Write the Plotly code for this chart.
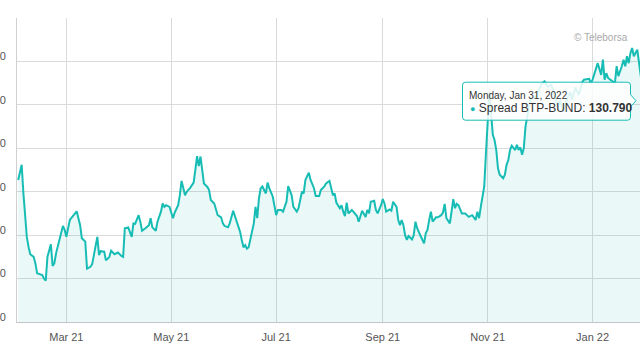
import plotly.graph_objects as go

dates = [
    "2021-02-01", "2021-02-02", "2021-02-03", "2021-02-04", "2021-02-05", "2021-02-06", "2021-02-07", "2021-02-08",
    "2021-02-10", "2021-02-11", "2021-02-12", "2021-02-14", "2021-02-15", "2021-02-16", "2021-02-17", "2021-02-18",
    "2021-02-20", "2021-02-21", "2021-02-22", "2021-02-23", "2021-02-25", "2021-02-27", "2021-02-28",
    "2021-03-01", "2021-03-03", "2021-03-05", "2021-03-07", "2021-03-09", "2021-03-10", "2021-03-12", "2021-03-13",
    "2021-03-15", "2021-03-16", "2021-03-17", "2021-03-19", "2021-03-20", "2021-03-21", "2021-03-23", "2021-03-24",
    "2021-03-26", "2021-03-27", "2021-03-29", "2021-03-30", "2021-03-31",
    "2021-04-02", "2021-04-03", "2021-04-04", "2021-04-06", "2021-04-08", "2021-04-09", "2021-04-10", "2021-04-12",
    "2021-04-13", "2021-04-14", "2021-04-16", "2021-04-18", "2021-04-19", "2021-04-20", "2021-04-22", "2021-04-23",
    "2021-04-25", "2021-04-26", "2021-04-27", "2021-04-28", "2021-04-30",
    "2021-05-01", "2021-05-02", "2021-05-03", "2021-05-05", "2021-05-06", "2021-05-07", "2021-05-09", "2021-05-10",
    "2021-05-12", "2021-05-14", "2021-05-15", "2021-05-16", "2021-05-17", "2021-05-18", "2021-05-20", "2021-05-22",
    "2021-05-23", "2021-05-24", "2021-05-26", "2021-05-27", "2021-05-28", "2021-05-30", "2021-05-31",
    "2021-06-01", "2021-06-03", "2021-06-04", "2021-06-06", "2021-06-07", "2021-06-09", "2021-06-10", "2021-06-11",
    "2021-06-12", "2021-06-13", "2021-06-14", "2021-06-15", "2021-06-16", "2021-06-18", "2021-06-19", "2021-06-20",
    "2021-06-21", "2021-06-22", "2021-06-23", "2021-06-25", "2021-06-26", "2021-06-27", "2021-06-29", "2021-06-30",
    "2021-07-01", "2021-07-02", "2021-07-04", "2021-07-05", "2021-07-07", "2021-07-08", "2021-07-10", "2021-07-11",
    "2021-07-13", "2021-07-14", "2021-07-15", "2021-07-16", "2021-07-17", "2021-07-18", "2021-07-20", "2021-07-21",
    "2021-07-23", "2021-07-24", "2021-07-26", "2021-07-27", "2021-07-29", "2021-07-30",
    "2021-08-01", "2021-08-02", "2021-08-03", "2021-08-04", "2021-08-05", "2021-08-07", "2021-08-08", "2021-08-09",
    "2021-08-10", "2021-08-11", "2021-08-12", "2021-08-14", "2021-08-15", "2021-08-17", "2021-08-18", "2021-08-19",
    "2021-08-20", "2021-08-22", "2021-08-23", "2021-08-24", "2021-08-25", "2021-08-27", "2021-08-28", "2021-08-29",
    "2021-08-31",
    "2021-09-01", "2021-09-02", "2021-09-03", "2021-09-05", "2021-09-06", "2021-09-07", "2021-09-09", "2021-09-10",
    "2021-09-11", "2021-09-12", "2021-09-13", "2021-09-14", "2021-09-15", "2021-09-16", "2021-09-18", "2021-09-19",
    "2021-09-20", "2021-09-21", "2021-09-23", "2021-09-24", "2021-09-25", "2021-09-26", "2021-09-27", "2021-09-28",
    "2021-09-29", "2021-09-30",
    "2021-10-02", "2021-10-03", "2021-10-05", "2021-10-06", "2021-10-07", "2021-10-08", "2021-10-10", "2021-10-11",
    "2021-10-12", "2021-10-13", "2021-10-14", "2021-10-15", "2021-10-17", "2021-10-19", "2021-10-21", "2021-10-23",
    "2021-10-25", "2021-10-26", "2021-10-27", "2021-10-28", "2021-10-30", "2021-10-31",
    "2021-11-01", "2021-11-02", "2021-11-03", "2021-11-04", "2021-11-05", "2021-11-06", "2021-11-07", "2021-11-08",
    "2021-11-10", "2021-11-11", "2021-11-12", "2021-11-13", "2021-11-14", "2021-11-15", "2021-11-17", "2021-11-18",
    "2021-11-19", "2021-11-20", "2021-11-21", "2021-11-22", "2021-11-23", "2021-11-24", "2021-11-25", "2021-11-26",
    "2021-11-29",
    "2021-12-01", "2021-12-02", "2021-12-04", "2021-12-06", "2021-12-08", "2021-12-10", "2021-12-12", "2021-12-13",
    "2021-12-15", "2021-12-17", "2021-12-19", "2021-12-20", "2021-12-22", "2021-12-24", "2021-12-26", "2021-12-27",
    "2021-12-30", "2021-12-31",
    "2022-01-01", "2022-01-03", "2022-01-04", "2022-01-06", "2022-01-07", "2022-01-08", "2022-01-09", "2022-01-10",
    "2022-01-12", "2022-01-14", "2022-01-15", "2022-01-16", "2022-01-18", "2022-01-19", "2022-01-20", "2022-01-21",
    "2022-01-22", "2022-01-23", "2022-01-24", "2022-01-25", "2022-01-27", "2022-01-28", "2022-01-31",
]

spread = [
    112.7, 114.6, 116.2, 109.7, 103.5, 99.6, 97.3, 95.6,
    95.0, 93.5, 91.2, 91.0, 90.8, 90.0, 89.5, 95.0,
    97.9, 92.9, 93.5, 95.8, 98.9, 102.1, 101.2,
    99.6, 103.5, 104.4, 105.5, 102.3, 99.3, 98.5, 92.3,
    92.7, 93.3, 95.4, 99.6, 95.4, 96.3, 96.2, 94.2,
    95.0, 96.4, 95.6, 95.8, 96.0,
    95.2, 95.0, 101.6, 101.8, 99.6, 102.7, 102.6, 104.6,
    103.1, 101.0, 101.6, 102.3, 103.9, 101.8, 101.0, 103.1,
    105.4, 107.3, 106.5, 106.9, 106.5,
    105.4, 103.9, 105.2, 106.9, 109.2, 112.5, 109.2, 110.0,
    110.9, 112.1, 115.0, 118.2, 115.9, 118.1, 111.9, 111.1,
    110.4, 108.1, 107.3, 106.2, 104.6, 104.1, 102.7,
    102.1, 101.8, 102.7, 105.6, 104.4, 102.1, 100.8, 98.9,
    97.2, 97.7, 96.9, 97.2, 99.0, 102.7, 106.5, 103.9,
    108.5, 110.8, 111.2, 109.6, 112.1, 110.8, 108.9, 106.5,
    104.6, 105.8, 105.8, 105.4, 107.7, 111.3, 109.2, 106.5,
    105.4, 106.2, 108.3, 110.0, 109.6, 112.7, 114.4, 112.7,
    110.8, 109.0, 109.0, 110.4, 111.2, 111.9,
    112.5, 110.4, 109.2, 109.6, 107.5, 106.2, 106.9, 105.4,
    104.4, 107.5, 105.0, 105.8, 105.4, 104.4, 103.1, 104.6,
    105.6, 104.2, 105.8, 105.0, 107.7, 107.9, 105.8, 105.0,
    106.9,
    108.3, 107.3, 105.4, 105.9, 105.6, 107.7, 106.5, 103.5,
    102.3, 103.5, 102.3, 100.0, 98.9, 99.8, 99.0, 100.0,
    103.1, 101.6, 99.8, 98.7, 98.1, 100.5, 101.2, 103.5,
    105.4, 103.1,
    104.1, 104.1, 104.6, 105.2, 107.2, 103.9, 102.7, 105.4,
    108.3, 106.2, 107.2, 106.9, 105.0, 105.0, 104.2, 104.6,
    103.5, 105.4, 103.9, 106.5, 111.2, 118.9,
    126.0, 133.0, 128.0, 123.1, 121.9, 119.6, 115.4, 113.9,
    113.1, 113.9, 116.2, 117.3, 119.6, 120.6, 119.6, 120.8,
    119.6, 120.2, 118.5, 120.0, 125.0, 127.7, 129.6, 131.3,
    131.9,
    133.5, 134.6, 135.4, 134.2, 134.6, 132.3, 129.3, 131.2,
    128.4, 131.2, 133.0, 131.2, 134.0, 132.3, 135.3, 135.8,
    136.0, 135.0,
    135.8, 138.1, 139.6, 136.9, 140.4, 135.8, 137.3, 136.2,
    135.6, 135.0, 138.9, 136.6, 138.9, 140.4, 138.9, 141.2,
    139.6, 141.9, 143.1, 141.2, 142.7, 140.0, 130.79,
]

y_ticks = [80, 90, 100, 110, 120, 130, 140, 150]
y_tick_text = ["80", "90", "100", "110", "120", "130", "140", ""]
series_name = "Spread BTP-BUND"
tooltip_date = "Monday, Jan 31, 2022"
tooltip_value = "130.790"

LINE = "#17bdb5"
FONT = "Liberation Sans, Arial, sans-serif"

fig = go.Figure()
fig.add_trace(go.Scatter(
    x=dates, y=spread, mode="lines", name=series_name,
    line=dict(color=LINE, width=2),
    fill="tozeroy", fillcolor="rgba(23,189,181,0.09)",
    hoverinfo="skip",
))

fig.update_layout(
    width=640, height=360,
    margin=dict(l=17, r=0, t=18, b=38),
    paper_bgcolor="white", plot_bgcolor="white",
    showlegend=False,
    font=dict(family=FONT, size=11, color="#666666"),
    xaxis=dict(
        range=["2021-01-31 07:00", "2022-01-28 14:00"],
        tick0="2021-03-01", dtick="M2", tickformat="%b %y",
        showgrid=True, gridcolor="#dadada", gridwidth=1,
        showline=True, linecolor="#c4c4c4", linewidth=1,
        ticks="", ticklabelstandoff=5,
        tickfont=dict(family=FONT, size=11, color="#555555"),
        zeroline=False, automargin=False,
    ),
    yaxis=dict(
        range=[80, 150], tickvals=y_ticks, ticktext=y_tick_text,
        showgrid=True, gridcolor="#dadada", gridwidth=1,
        showline=True, linecolor="#d0d0d0", linewidth=1,
        ticks="", ticklabelstandoff=8, ticklabelshift=-5,
        tickfont=dict(family=FONT, size=11, color="#555555"),
        zeroline=False, automargin=False,
    ),
)

# tooltip callout (pixel offsets from the top-right corner of the plot area)
fig.add_shape(
    type="path", xref="paper", yref="paper",
    xsizemode="pixel", ysizemode="pixel", xanchor=1, yanchor=1,
    path=("M -174.5,-64.2 L -12.5,-64.2 Q -9.5,-64.2 -9.5,-67.2 L -9.5,-76.7 L -4,-82.7 "
          "L -9.5,-88.7 L -9.5,-99.2 Q -9.5,-102.2 -12.5,-102.2 L -174.5,-102.2 "
          "Q -177.5,-102.2 -177.5,-99.2 L -177.5,-67.2 Q -177.5,-64.2 -174.5,-64.2 Z"),
    line=dict(color=LINE, width=1), fillcolor="rgba(255,255,255,0.85)", layer="above",
)
fig.add_annotation(
    xref="paper", yref="paper", x=0.7231, y=0.7456, xanchor="left", yanchor="middle",
    text=tooltip_date, showarrow=False, font=dict(family=FONT, size=10, color="#333333"),
)
fig.add_annotation(
    xref="paper", yref="paper", x=0.7247, y=0.7034, xanchor="left", yanchor="middle",
    text=f"<span style='color:{LINE}; font-size:9px'>●</span> {series_name}: <b>{tooltip_value}</b>",
    showarrow=False, font=dict(family=FONT, size=12, color="#333333"),
)
fig.add_annotation(
    xref="paper", yref="paper", x=0.984, y=0.9367, xanchor="right", yanchor="middle",
    text="© Teleborsa", showarrow=False, font=dict(family=FONT, size=10, color="#aaaaaa"),
)

fig.write_html(
    "out.html",
    config={"displayModeBar": False},
    post_script="document.body.style.margin='0';document.body.style.overflow='hidden';",
)
